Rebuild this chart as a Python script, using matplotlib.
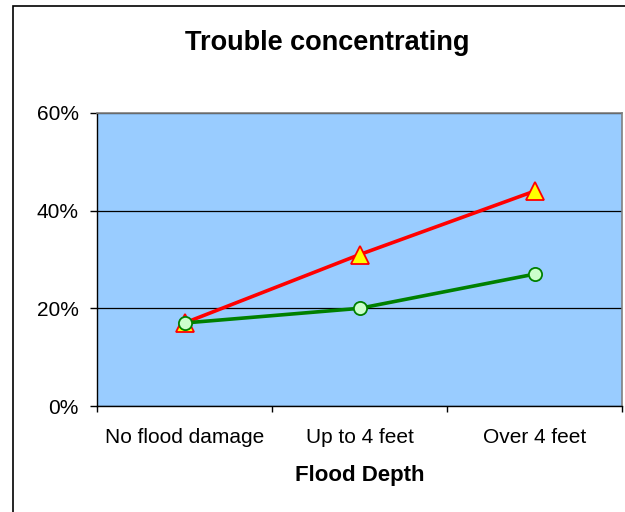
import matplotlib
matplotlib.use("Agg")
import matplotlib.pyplot as plt
import numpy as np
from matplotlib.patches import Rectangle
from matplotlib.ticker import FixedLocator, FuncFormatter

plt.rcParams['font.family'] = ['Liberation Sans', 'DejaVu Sans']

title = "Trouble concentrating"
xlabel = "Flood Depth"
categories = ["No flood damage", "Up to 4 feet", "Over 4 feet"]
series_red = [0.17, 0.31, 0.44]
series_green = [0.17, 0.20, 0.27]
yticks = [0.0, 0.2, 0.4, 0.6]

W, H = 625, 512
fig = plt.figure(figsize=(W / 100, H / 100), dpi=100)
fig.patch.set_facecolor("white")

# chart frame (extends past the right/bottom edges)
fig.patches.append(Rectangle((13 / W, -0.05), 1.2, 1 - 6 / H + 0.05,
                             transform=fig.transFigure, fill=False,
                             edgecolor="black", linewidth=1.2, zorder=0))

ax = fig.add_axes([97 / W, 1 - 406 / H, 525 / W, 293 / H])
ax.set_facecolor("#99CCFF")

x = np.arange(len(categories)) + 0.5
ax.plot(x, series_red, color="#FF0000", linewidth=2.6, marker="^",
        markersize=13, markerfacecolor="#FFFF00", markeredgecolor="#FF0000",
        markeredgewidth=1.3, zorder=4, clip_on=False)
ax.plot(x, series_green, color="#008000", linewidth=2.6, marker="o",
        markersize=9.5, markerfacecolor="#CCFFCC", markeredgecolor="#008000",
        markeredgewidth=1.3, zorder=5, clip_on=False)

ax.set_xlim(0, len(categories))
ax.set_ylim(0, 0.6)

ax.set_yticks(yticks)
ax.yaxis.set_major_formatter(FuncFormatter(lambda v, p: f"{v*100:.0f}%"))
ax.grid(axis="y", color="black", linewidth=0.9)
ax.set_axisbelow(True)

ax.xaxis.set_major_locator(FixedLocator(np.arange(len(categories) + 1)))
ax.xaxis.set_major_formatter(FuncFormatter(lambda v, p: ""))
ax.xaxis.set_minor_locator(FixedLocator(x))
ax.set_xticklabels(categories, minor=True)
ax.tick_params(axis="x", which="minor", length=0, pad=16, labelsize=15)
ax.tick_params(axis="x", which="major", length=4.5, direction="out", width=1)
ax.tick_params(axis="y", length=5, direction="out", width=1, labelsize=15, pad=8)

for s in ["top", "right"]:
    ax.spines[s].set_color("#808080")
    ax.spines[s].set_linewidth(1.2)
for s in ["left", "bottom"]:
    ax.spines[s].set_color("black")
    ax.spines[s].set_linewidth(1.0)

fig.text(327 / W, 1 - 43 / H, title, ha="center", va="center",
         fontsize=19.5, fontweight="bold")
fig.text(360 / W, 1 - 476 / H, xlabel, ha="center", va="center",
         fontsize=16, fontweight="bold")

fig.savefig("out.png", dpi=100)
